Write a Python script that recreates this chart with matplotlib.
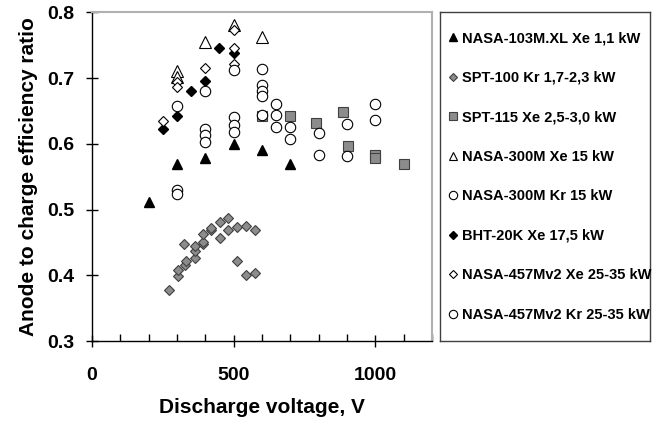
import matplotlib
matplotlib.use('Agg')
import matplotlib.pyplot as plt
from matplotlib.ticker import MultipleLocator

plt.rcParams['font.family'] = ['Liberation Sans', 'DejaVu Sans']
plt.rcParams['font.weight'] = 'bold'

# NASA-103M.XL Xe 1,1 kW
nasa103_v = [200, 300, 400, 500, 600, 700]
nasa103_r = [0.512, 0.569, 0.579, 0.600, 0.591, 0.569]

# SPT-100 Kr 1,7-2,3 kW
spt100_v = [272, 303, 303, 330, 332, 326, 362, 362, 362, 391, 391, 391,
            420, 420, 452, 452, 481, 481, 511, 543, 575, 511, 543, 575]
spt100_r = [0.377, 0.399, 0.408, 0.416, 0.421, 0.447, 0.426, 0.437, 0.445, 0.447, 0.451, 0.463,
            0.469, 0.472, 0.456, 0.481, 0.487, 0.469, 0.474, 0.475, 0.469, 0.422, 0.401, 0.404]

# SPT-115 Xe 2,5-3,0 kW
spt115_v = [600, 700, 790, 885, 905, 1000, 1000, 1100]
spt115_r = [0.642, 0.642, 0.632, 0.648, 0.596, 0.583, 0.578, 0.570]

# NASA-300M Xe 15 kW
n300xe_v = [300, 300, 400, 500, 600]
n300xe_r = [0.711, 0.702, 0.755, 0.781, 0.762]

# NASA-300M Kr 15 kW
n300kr_v = [300, 300, 400, 400, 400, 500, 500, 500, 600, 600, 600]
n300kr_r = [0.530, 0.524, 0.623, 0.613, 0.603, 0.641, 0.628, 0.618, 0.689, 0.680, 0.672]

# BHT-20K Xe 17,5 kW
bht_v = [250, 300, 350, 400, 450, 500]
bht_r = [0.622, 0.643, 0.680, 0.696, 0.745, 0.738]

# NASA-457Mv2 Xe 25-35 kW
n457xe_v = [250, 300, 300, 400, 500, 500, 500]
n457xe_r = [0.635, 0.694, 0.686, 0.715, 0.773, 0.746, 0.721]

# NASA-457Mv2 Kr 25-35 kW
n457kr_v = [300, 400, 500, 600, 600, 650, 650, 650, 700, 700, 800, 800, 900, 900, 1000, 1000]
n457kr_r = [0.657, 0.680, 0.712, 0.714, 0.644, 0.660, 0.644, 0.625, 0.625, 0.607,
            0.616, 0.583, 0.630, 0.581, 0.661, 0.636]

fig = plt.figure(figsize=(6.56, 4.26), dpi=100)
ax = fig.add_axes([0.1402, 0.1995, 0.5183, 0.7716])

gray = '#8c8c8c'
edge = '#404040'
ax.plot(nasa103_v, nasa103_r, '^', ms=7.5, color='black', mec='black', label='NASA-103M.XL Xe 1,1 kW')
ax.plot(spt100_v, spt100_r, 'D', ms=4.8, mfc=gray, mec=edge, mew=0.8, label='SPT-100 Kr 1,7-2,3 kW')
ax.plot(spt115_v, spt115_r, 's', ms=7.5, mfc=gray, mec=edge, mew=0.8, label='SPT-115 Xe 2,5-3,0 kW')
ax.plot(n300xe_v, n300xe_r, '^', ms=8, mfc='white', mec='black', mew=0.8, label='NASA-300M Xe 15 kW')
ax.plot(n300kr_v, n300kr_r, 'o', ms=7.5, mfc='white', mec='black', mew=0.8, label='NASA-300M Kr 15 kW')
ax.plot(bht_v, bht_r, 'D', ms=5, color='black', label='BHT-20K Xe 17,5 kW')
ax.plot(n457xe_v, n457xe_r, 'D', ms=5, mfc='white', mec='black', mew=0.8, label='NASA-457Mv2 Xe 25-35 kW')
ax.plot(n457kr_v, n457kr_r, 'o', ms=7.5, mfc='white', mec='black', mew=0.8, label='NASA-457Mv2 Kr 25-35 kW')

ax.set_xlim(0, 1200)
ax.set_ylim(0.3, 0.8)
ax.xaxis.set_major_locator(MultipleLocator(500))
ax.xaxis.set_minor_locator(MultipleLocator(100))
ax.yaxis.set_major_locator(MultipleLocator(0.1))
ax.yaxis.set_major_formatter(matplotlib.ticker.FormatStrFormatter('%.1f'))
ax.tick_params(axis='x', which='major', direction='inout', length=8, width=1, pad=15, labelsize=14)
ax.tick_params(axis='x', which='minor', direction='in', length=5, width=1)
ax.tick_params(axis='y', which='major', direction='inout', length=8, width=1, pad=9, labelsize=14)
for s in ['top', 'right']:
    ax.spines[s].set_color('#b0b0b0')
    ax.spines[s].set_linewidth(1.5)
for s in ['left', 'bottom']:
    ax.spines[s].set_linewidth(1)

ax.set_xlabel('Discharge voltage, V', fontsize=15, fontweight='bold', labelpad=10)
ax.set_ylabel('Anode to charge efficiency ratio', fontsize=15, fontweight='bold', labelpad=6)

# legend box
lax = fig.add_axes([0.6707, 0.1995, 0.3202, 0.7716])
lax.set_xticks([])
lax.set_yticks([])
for s in lax.spines.values():
    s.set_color('#404040')
    s.set_linewidth(1)
h, l = ax.get_legend_handles_labels()
lax.legend(h, l, loc='center left', frameon=False, markerscale=0.8,
           handlelength=0.6, handletextpad=0.3, labelspacing=1.75,
           borderaxespad=0.2, prop={'weight': 'bold', 'size': 10.5})

fig.savefig('out.png', dpi=100)
